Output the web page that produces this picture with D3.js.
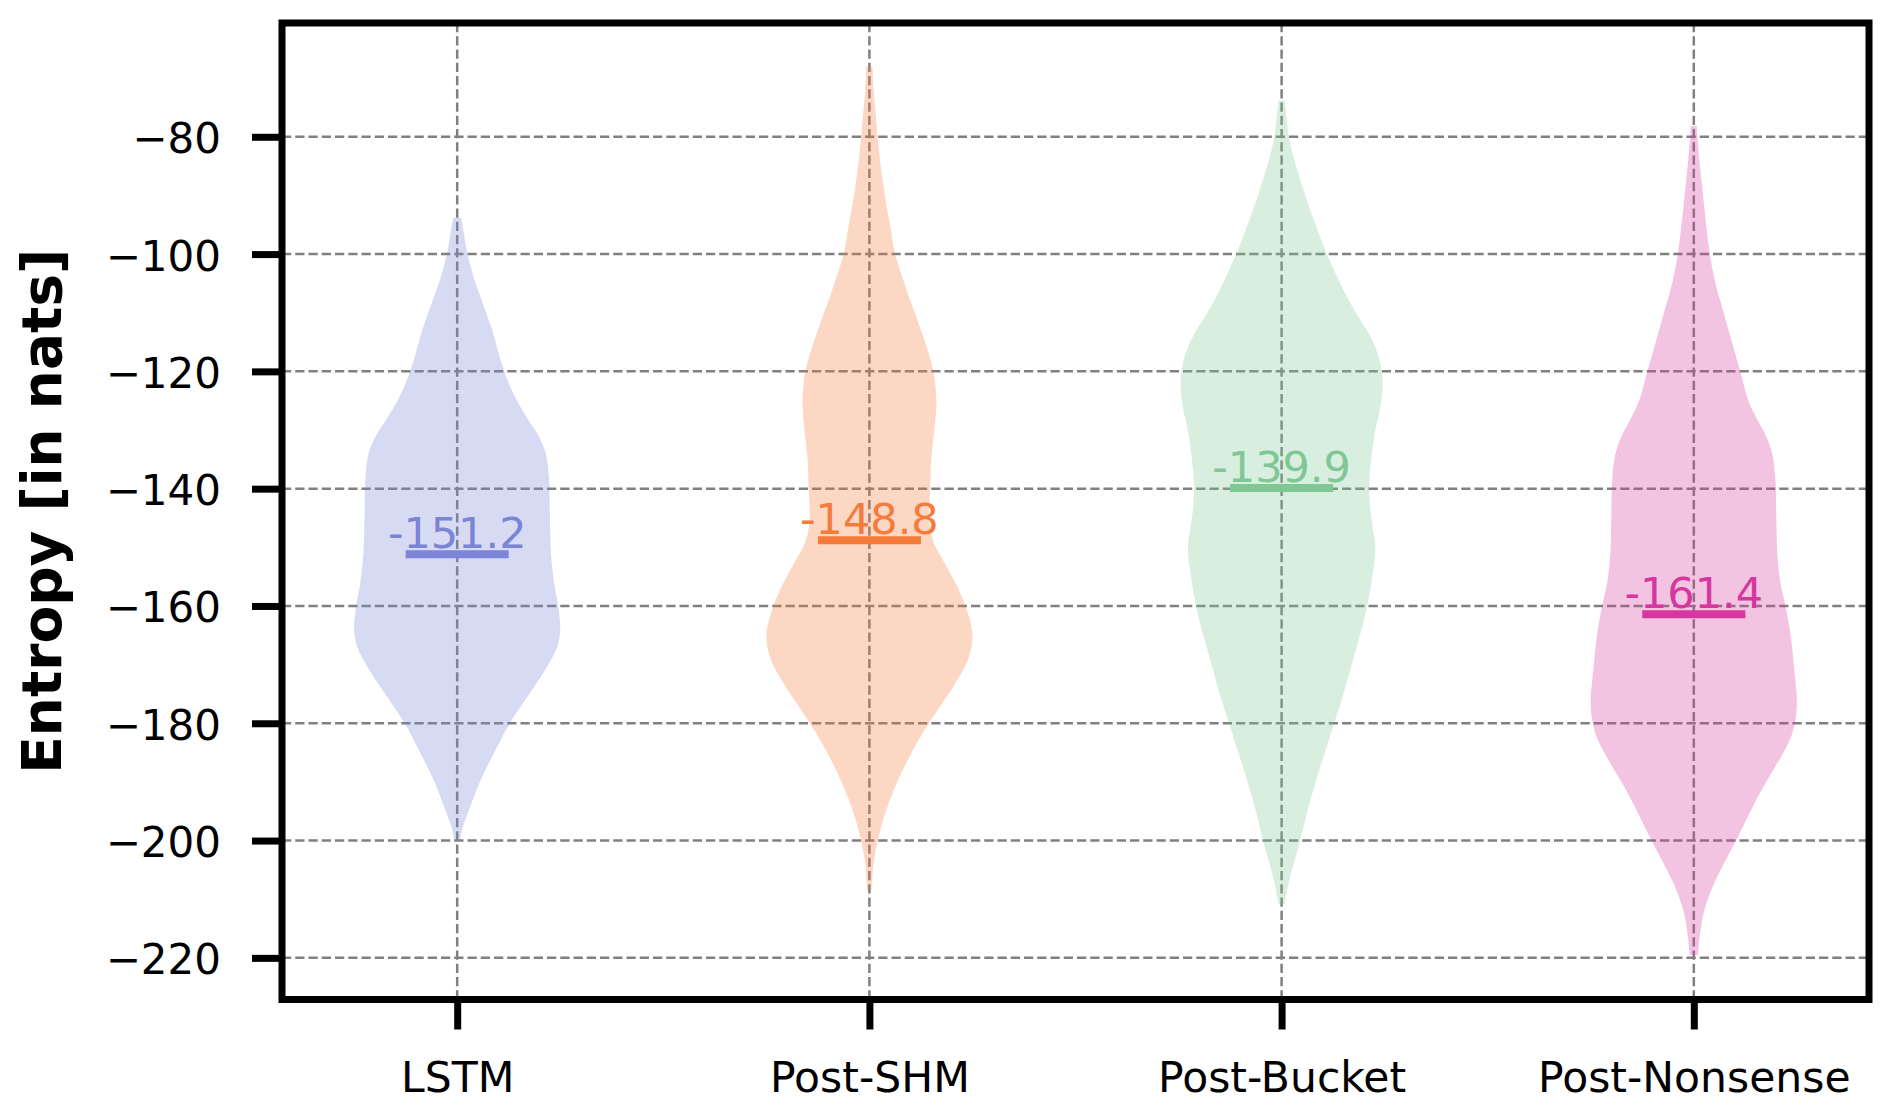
<!DOCTYPE html>
<html>
<head>
<meta charset="utf-8">
<script src="https://cdn.jsdelivr.net/npm/d3@7"></script>
<style>
  html, body { margin: 0; padding: 0; background: #fff; }
  svg { display: block; }
  text { font-family: "DejaVu Sans", Verdana, sans-serif; }
</style>
</head>
<body>
<svg id="chart" width="1892" height="1111"></svg>
<script>
// ---------------- data ----------------
const categories = ["LSTM", "Post-SHM", "Post-Bucket", "Post-Nonsense"];
const positions = [1, 2, 3, 4];
const medians = [-151.2, -148.8, -139.9, -161.4];
const yTicks = [-80, -100, -120, -140, -160, -180, -200, -220];
const lineColors = ["#7b84d6", "#f47b3a", "#7fc794", "#d6379f"];

// violin profiles: [value, relative density width (1 = widest)]
const lstmProfile = [
  [-93.8, 0.04], [-96, 0.06], [-100, 0.10], [-104, 0.16], [-108, 0.24], [-113, 0.34],
  [-118, 0.42], [-122, 0.50], [-125, 0.58], [-128, 0.68], [-131, 0.79], [-134, 0.86],
  [-138, 0.89], [-145, 0.90], [-151, 0.91], [-156, 0.94], [-160, 0.98], [-164, 1.0],
  [-167, 0.97], [-171, 0.85], [-176, 0.66], [-180, 0.51], [-185, 0.36], [-190, 0.22],
  [-195, 0.11], [-198, 0.05], [-200, 0.03]
];
const shmProfile = [
  [-68, 0.03], [-72, 0.04], [-76, 0.06], [-80, 0.08], [-85, 0.11], [-90, 0.15],
  [-95, 0.20], [-100, 0.25], [-105, 0.34], [-110, 0.44], [-115, 0.54], [-120, 0.62],
  [-125, 0.65], [-130, 0.63], [-135, 0.60], [-140, 0.59], [-145, 0.58], [-149, 0.62],
  [-153, 0.74], [-157, 0.86], [-161, 0.95], [-165, 1.0], [-169, 0.96], [-173, 0.84],
  [-177, 0.69], [-181, 0.54], [-185, 0.41], [-190, 0.27], [-195, 0.16], [-200, 0.08],
  [-204, 0.04], [-208.5, 0.02]
];
const bucketProfile = [
  [-73.8, 0.03], [-77, 0.05], [-80, 0.07], [-85, 0.14], [-90, 0.23], [-95, 0.33],
  [-100, 0.44], [-105, 0.57], [-110, 0.72], [-114, 0.86], [-118, 0.95], [-122, 0.98],
  [-126, 0.96], [-130, 0.91], [-135, 0.87], [-140, 0.85], [-145, 0.87], [-150, 0.91],
  [-155, 0.88], [-160, 0.83], [-165, 0.76], [-170, 0.68], [-175, 0.60], [-180, 0.51],
  [-185, 0.42], [-190, 0.33], [-195, 0.25], [-200, 0.18], [-205, 0.10], [-208, 0.06],
  [-210.9, 0.03]
];
const nonsenseProfile = [
  [-78.2, 0.03], [-80, 0.035], [-85, 0.06], [-90, 0.09], [-95, 0.12], [-100, 0.155],
  [-105, 0.21], [-110, 0.29], [-115, 0.37], [-120, 0.45], [-125, 0.53], [-128, 0.61],
  [-131, 0.70], [-134, 0.76], [-138, 0.79], [-144, 0.80], [-151, 0.81], [-156, 0.84],
  [-160, 0.89], [-165, 0.94], [-170, 0.97], [-176, 1.0], [-179, 0.99], [-182, 0.95],
  [-185, 0.87], [-188, 0.77], [-191, 0.67], [-195, 0.55], [-200, 0.41], [-204, 0.29],
  [-208, 0.18], [-212, 0.10], [-216, 0.06], [-219.5, 0.04]
];
const profiles = [lstmProfile, shmProfile, bucketProfile, nonsenseProfile];

// ---------------- layout ----------------
const svg = d3.select("#chart");
const plot = { left: 282, right: 1869, top: 23, bottom: 999.5 };
const violinHalfWidth = 0.25;   // in x units (matplotlib widths=0.5)
const medianHalfWidth = 0.125;

const x = d3.scaleLinear().domain([0.575, 4.425]).range([plot.left, plot.right]);
const y = d3.scaleLinear().domain([-227.1, -60.6]).range([plot.bottom, plot.top]);

svg.append("rect").attr("width", 1892).attr("height", 1111).attr("fill", "#fff");

// grid
const grid = svg.append("g").attr("stroke", "#808080").attr("stroke-width", 2.5)
  .attr("stroke-dasharray", "9.25,4").attr("fill", "none");
grid.selectAll("line.h").data(yTicks).join("line").attr("class", "h")
  .attr("x1", plot.left).attr("x2", plot.right)
  .attr("y1", d => y(d)).attr("y2", d => y(d));
grid.selectAll("line.v").data(positions).join("line").attr("class", "v")
  .attr("x1", d => x(d)).attr("x2", d => x(d))
  .attr("y1", plot.top).attr("y2", plot.bottom);

// violins
const violins = svg.append("g");
profiles.forEach((prof, i) => {
  const pos = positions[i];
  const area = d3.area()
    .y(d => y(d[0]))
    .x0(d => x(pos - d[1] * violinHalfWidth))
    .x1(d => x(pos + d[1] * violinHalfWidth))
    .curve(d3.curveCatmullRom.alpha(0.5));
  violins.append("path")
    .datum(prof)
    .attr("d", area)
    .attr("fill", lineColors[i])
    .attr("fill-opacity", 0.3);
});

// medians and labels
const med = svg.append("g");
medians.forEach((m, i) => {
  const pos = positions[i];
  med.append("line")
    .attr("x1", x(pos - medianHalfWidth)).attr("x2", x(pos + medianHalfWidth))
    .attr("y1", y(m)).attr("y2", y(m))
    .attr("stroke", lineColors[i]).attr("stroke-width", 8);
  med.append("text")
    .attr("x", x(pos)).attr("y", y(m) - 6)
    .attr("text-anchor", "middle")
    .attr("font-size", 43)
    .attr("fill", lineColors[i])
    .text(m.toFixed(1));
});

// axes
const yAxis = d3.axisLeft(y).tickValues(yTicks).tickSize(30).tickPadding(0)
  .tickFormat(d => d3.format("d")(d).replace("-", "\u2212"));
const yg = svg.append("g").attr("transform", `translate(${plot.left},0)`).call(yAxis);
yg.select(".domain").remove();
yg.selectAll(".tick line").attr("stroke", "#000").attr("stroke-width", 7);
yg.selectAll(".tick text").attr("x", -61).attr("dy", null).attr("y", 16)
  .attr("font-size", 42).attr("fill", "#000").attr("font-family", "DejaVu Sans");

const xAxis = d3.axisBottom(x).tickValues(positions).tickSize(30).tickPadding(0)
  .tickFormat((d, i) => categories[i]);
const xg = svg.append("g").attr("transform", `translate(0,${plot.bottom})`).call(xAxis);
xg.select(".domain").remove();
xg.selectAll(".tick line").attr("stroke", "#000").attr("stroke-width", 7);
xg.selectAll(".tick text").attr("y", 92).attr("dy", null)
  .attr("font-size", 42.5).attr("fill", "#000").attr("font-family", "DejaVu Sans");

// frame
svg.append("rect")
  .attr("x", plot.left).attr("y", plot.top)
  .attr("width", plot.right - plot.left).attr("height", plot.bottom - plot.top)
  .attr("fill", "none").attr("stroke", "#000").attr("stroke-width", 7);

// y label
svg.append("text")
  .attr("transform", `translate(61,${(plot.top + plot.bottom) / 2}) rotate(-90)`)
  .attr("text-anchor", "middle")
  .attr("font-size", 55).attr("font-weight", "bold").attr("fill", "#000")
  .text("Entropy [in nats]");
</script>
</body>
</html>
